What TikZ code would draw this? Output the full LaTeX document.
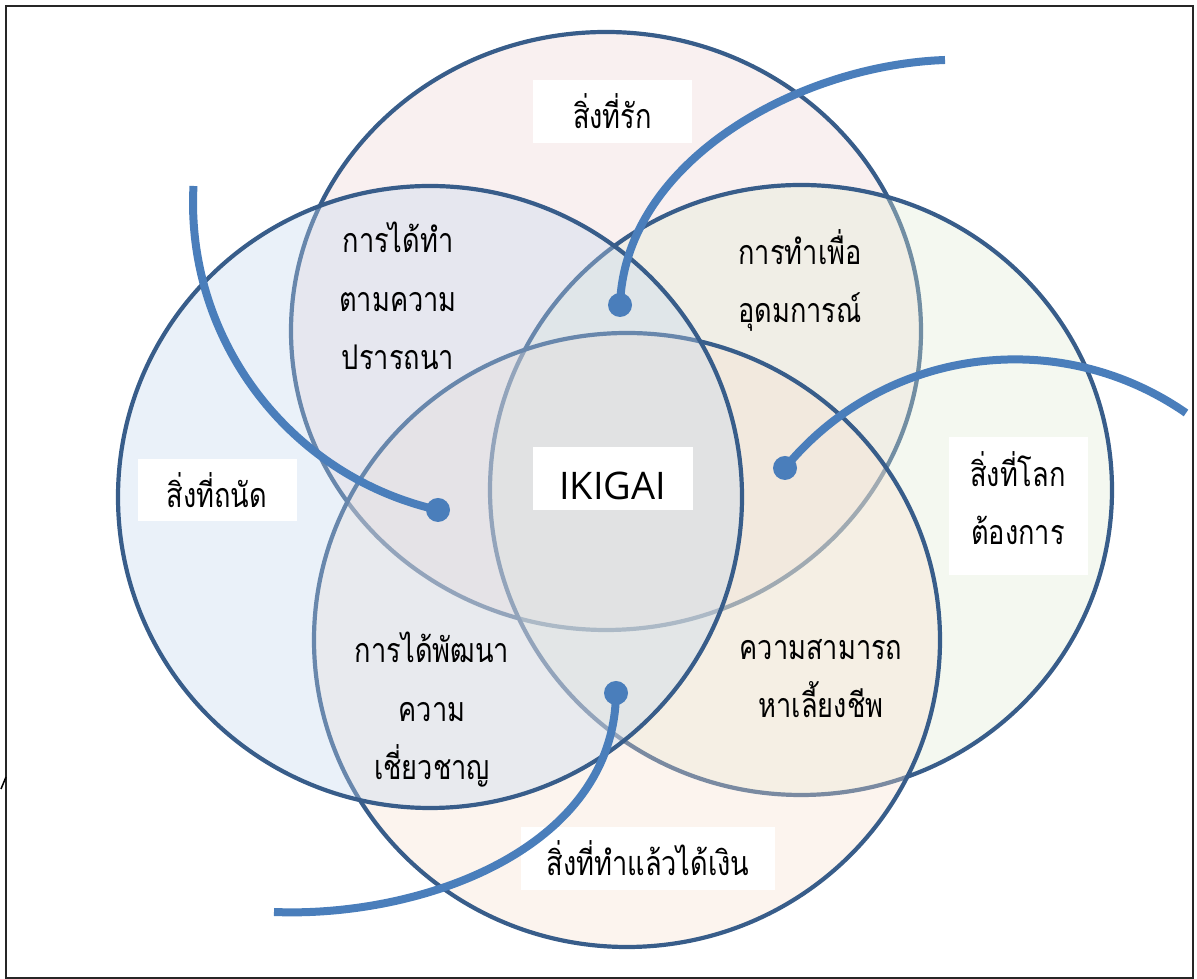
\documentclass[tikz,border=0pt]{standalone}
\usepackage{fontspec}
\newfontfamily\thai{Loma}[Script=Thai, FakeStretch=0.8]
\newfontfamily\latinf{Open Sans}
\usetikzlibrary{shapes.geometric}
\definecolor{strokeblue}{RGB}{56,93,138}
\definecolor{arcblue}{RGB}{74,126,187}
\definecolor{fillT}{RGB}{238,212,212}
\definecolor{fillR}{RGB}{224,235,212}
\definecolor{fillB}{RGB}{246,224,206}
\definecolor{fillL}{RGB}{195,215,238}
\begin{document}
\begin{tikzpicture}[x=1pt,y=1pt,
  venn/.style={ellipse, draw=strokeblue, line width=4.2pt, fill opacity=0.35, inner sep=0pt},
  bluearc/.style={draw=arcblue, line width=8pt},
  dotn/.style={circle, fill=arcblue, minimum size=24pt, inner sep=0pt},
  labelbox/.style={fill=white, inner sep=0pt, text=black},
  thaifont/.style={font=\thai\fontsize{34}{58.5}\selectfont},
  thaitext/.style={thaifont, align=center, inner sep=0pt, text=black},
]
\useasboundingbox (0,0) rectangle (1197,979);
% frame
\draw[line width=2pt, black!85] (6,1) rectangle (1193,973);
\coordinate (tk1) at (1,190);
\coordinate (tk2) at (6,202);
\draw[line width=1.5pt] (tk1) -- (tk2);
% circles
\node[venn, fill=fillT, minimum width=630pt, minimum height=598pt] (T) at (606,648) {};
\node[venn, fill=fillR, minimum width=622pt, minimum height=610pt] (R) at (801,489) {};
\node[venn, fill=fillB, minimum width=626pt, minimum height=614pt] (B) at (627,339) {};
\node[venn, fill=fillL, minimum width=624pt, minimum height=622pt] (L) at (430,482) {};
% boxed labels
\node[labelbox, thaifont, minimum width=159pt, minimum height=63pt, text height=44pt, text depth=10pt] (love) at (612.5,867.5) {สิ่งที่รัก};
\node[labelbox, thaifont, minimum width=159pt, minimum height=62pt, text height=44pt, text depth=10pt] (skill) at (217,488.5) {สิ่งที่ถนัด};
\node[labelbox, thaifont, minimum width=254pt, minimum height=63pt, text height=44pt, text depth=10pt] (money) at (648,120.5) {สิ่งที่ทำแล้วได้เงิน};
\node[labelbox, font=\latinf\fontsize{38}{46}\selectfont, minimum width=160pt, minimum height=63pt, text height=47pt, text depth=5pt] (ikigai) at (612.5,500.7) {IKIGAI};
\node[labelbox, minimum width=139pt, minimum height=138pt] (worldbox) at (1018,472.5) {};
\node[thaitext, anchor=base] (world) at (1018,434) {สิ่งที่โลก\\ต้องการ};
% dots and arcs
\node[dotn] (dA) at (438,469) {};
\node[dotn] (dB) at (620,674) {};
\node[dotn] (dC) at (785,511) {};
\node[dotn] (dD) at (616,286) {};
\coordinate (a0) at (193.5,793);
\coordinate (b0) at (945,919);
\coordinate (c0) at (1186,566);
\coordinate (d0) at (274,67);
\draw[bluearc] (a0) .. controls (185.2,640.2) and (289,502.7) .. (dA.center);
\draw[bluearc] (b0) .. controls (800,914) and (625,819) .. (dB.center);
\draw[bluearc] (c0) .. controls (1058,654.9) and (883.2,630.9) .. (dC.center);
\draw[bluearc] (d0) .. controls (420,61) and (614,129) .. (dD.center);
% region texts
\node[thaitext, anchor=base] (passion) at (398,609) {การได้ทำ\\ตามความ\\ปรารถนา};
\node[thaitext, anchor=base] (mission) at (800,656) {การทำเพื่อ\\อุดมการณ์};
\node[thaitext, anchor=base] (profession) at (432,199) {การได้พัฒนา\\ความ\\เชี่ยวชาญ};
\node[thaitext, anchor=base] (vocation) at (821,261) {ความสามารถ\\หาเลี้ยงชีพ};
\end{tikzpicture}
\end{document}
